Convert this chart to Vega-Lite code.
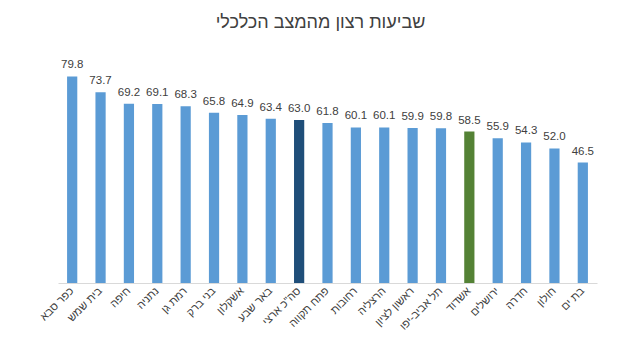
{
  "$schema": "https://vega.github.io/schema/vega-lite/v6.json",
  "width": 539,
  "height": 233,
  "autosize": {"type": "none"},
  "padding": {"left": 58, "top": 50, "right": 44, "bottom": 72},
  "background": "white",
  "title": {"text": "שביעות רצון מהמצב הכלכלי", "fontSize": 18, "font": "Liberation Sans", "fontWeight": "normal", "color": "#404040", "offset": 18, "anchor": "middle", "dx": -7},
  "data": {"values": [
    {"city": "כפר סבא", "value": 79.8, "type": "city"},
    {"city": "בית שמש", "value": 73.7, "type": "city"},
    {"city": "חיפה", "value": 69.2, "type": "city"},
    {"city": "נתניה", "value": 69.1, "type": "city"},
    {"city": "רמת גן", "value": 68.3, "type": "city"},
    {"city": "בני ברק", "value": 65.8, "type": "city"},
    {"city": "אשקלון", "value": 64.9, "type": "city"},
    {"city": "באר שבע", "value": 63.4, "type": "city"},
    {"city": "סה\"כ ארצי", "value": 63.0, "type": "total"},
    {"city": "פתח תקווה", "value": 61.8, "type": "city"},
    {"city": "רחובות", "value": 60.1, "type": "city"},
    {"city": "הרצליה", "value": 60.1, "type": "city"},
    {"city": "ראשון לציון", "value": 59.9, "type": "city"},
    {"city": "תל אביב-יפו", "value": 59.8, "type": "city"},
    {"city": "אשדוד", "value": 58.5, "type": "ashdod"},
    {"city": "ירושלים", "value": 55.9, "type": "city"},
    {"city": "חדרה", "value": 54.3, "type": "city"},
    {"city": "חולון", "value": 52.0, "type": "city"},
    {"city": "בת ים", "value": 46.5, "type": "city"}
  ]},
  "encoding": {
    "x": {"field": "city", "type": "nominal", "sort": null,
      "scale": {"paddingInner": 0.64, "paddingOuter": 0.32},
      "axis": {"title": null, "labelAngle": -45, "labelAlign": "right", "labelBaseline": "middle", "labelFont": "Liberation Sans", "labelFontSize": 11, "labelColor": "#404040", "ticks": false, "domainColor": "#D9D9D9", "labelPadding": 6, "labelOverlap": false}},
    "y": {"field": "value", "type": "quantitative", "scale": {"domain": [0, 90]}, "axis": null}
  },
  "layer": [
    {"mark": {"type": "bar"},
     "encoding": {"color": {"field": "type", "type": "nominal", "legend": null,
       "scale": {"domain": ["city", "total", "ashdod"], "range": ["#5B9BD5", "#1F4E79", "#548235"]}}}},
    {"mark": {"type": "text", "dy": -11, "font": "Liberation Sans", "fontSize": 11.5, "color": "#404040"},
     "encoding": {"text": {"field": "value", "type": "quantitative", "format": ".1f"}}}
  ],
  "config": {"view": {"stroke": null}}
}
